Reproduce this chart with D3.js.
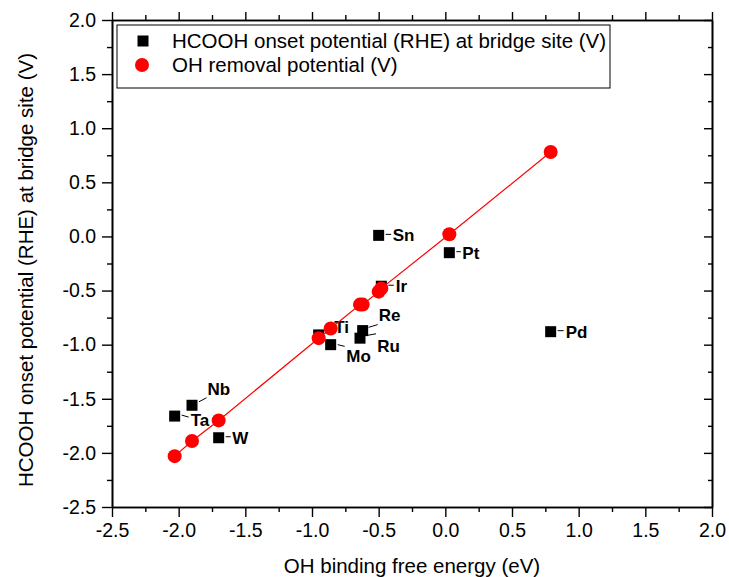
<!DOCTYPE html>
<html>
<head>
<meta charset="utf-8">
<script src="https://cdn.jsdelivr.net/npm/d3@7"></script>
<style>
  body { margin: 0; background: #fff; }
  svg { display: block; font-family: "Liberation Sans", Arial, sans-serif; }
</style>
</head>
<body>
<svg id="chart" width="729" height="577"></svg>
<script>
// metals and values
const metals = ['Sn', 'Pt', 'Ir', 'Pd', 'W', 'Ta', 'Nb', 'Ti', 'Mo', 'Re', 'Ru'];
const ohBinding = [-0.50, 0.03, -0.48, 0.79, -1.70, -2.03, -1.90, -0.95, -0.86, -0.62, -0.64]; // eV
const onsetPotential = [0.01, -0.15, -0.46, -0.88, -1.86, -1.66, -1.56, -0.91, -1.00, -0.87, -0.94]; // V (black squares)
const ohRemoval = [-0.51, 0.02, -0.48, 0.78, -1.70, -2.03, -1.89, -0.94, -0.85, -0.63, -0.63]; // V (red circles)
const majorTicks = [-2.5, -2.0, -1.5, -1.0, -0.5, 0.0, 0.5, 1.0, 1.5, 2.0];
const legendLabels = ['HCOOH onset potential (RHE) at bridge site (V)', 'OH removal potential (V)'];

const svg = d3.select('#chart');
const pLeft = 112, pRight = 712, pTop = 20, pBottom = 507;

const x_scale = d3.scaleLinear().domain([-2.5, 2]).range([pLeft, pRight]);
const y_scale = d3.scaleLinear().domain([-2.5, 2]).range([pBottom, pTop]);
const minorTicks = d3.range(-2.5, 2.01, 0.25).filter(v => Math.abs(v * 2 - Math.round(v * 2)) > 0.01);
const fmt = d => d.toFixed(1);

function styleAxis(g) {
  g.select('.domain').attr('stroke', '#000').attr('stroke-width', 1.6);
  g.selectAll('.tick line').attr('stroke', '#000').attr('stroke-width', 1.4);
  g.selectAll('.tick text').attr('fill', '#000').attr('font-size', 19.5)
    .attr('font-family', '"Liberation Sans", Arial, sans-serif');
}

// bottom axis
svg.append('g').attr('transform', `translate(0, ${pBottom})`)
  .call(d3.axisBottom(x_scale).tickValues(majorTicks).tickFormat(fmt).tickSize(10).tickSizeOuter(0).tickPadding(6))
  .call(styleAxis);
svg.append('g').attr('transform', `translate(0, ${pBottom})`)
  .call(d3.axisBottom(x_scale).tickValues(minorTicks).tickFormat('').tickSize(5).tickSizeOuter(0))
  .call(styleAxis);

// left axis
svg.append('g').attr('transform', `translate(${pLeft}, 0)`)
  .call(d3.axisLeft(y_scale).tickValues(majorTicks).tickFormat(fmt).tickSize(10).tickSizeOuter(0).tickPadding(6))
  .call(styleAxis);
svg.append('g').attr('transform', `translate(${pLeft}, 0)`)
  .call(d3.axisLeft(y_scale).tickValues(minorTicks).tickFormat('').tickSize(5).tickSizeOuter(0))
  .call(styleAxis);

// top axis (ticks outward, no labels)
svg.append('g').attr('transform', `translate(0, ${pTop})`)
  .call(d3.axisTop(x_scale).tickValues(majorTicks).tickFormat('').tickSize(8).tickSizeOuter(0))
  .call(styleAxis);
svg.append('g').attr('transform', `translate(0, ${pTop})`)
  .call(d3.axisTop(x_scale).tickValues(minorTicks).tickFormat('').tickSize(5).tickSizeOuter(0))
  .call(styleAxis);

// right axis (ticks inward)
svg.append('g').attr('transform', `translate(${pRight}, 0)`)
  .call(d3.axisLeft(y_scale).tickValues(majorTicks).tickFormat('').tickSize(8).tickSizeOuter(0))
  .call(styleAxis);
svg.append('g').attr('transform', `translate(${pRight}, 0)`)
  .call(d3.axisLeft(y_scale).tickValues(minorTicks).tickFormat('').tickSize(4).tickSizeOuter(0))
  .call(styleAxis);

// axis titles
svg.append('text')
  .attr('x', (pLeft + pRight) / 2).attr('y', 573)
  .attr('text-anchor', 'middle').attr('font-size', 20.5)
  .text('OH binding free energy (eV)');

svg.append('text')
  .attr('transform', `translate(33, 270) rotate(-90)`)
  .attr('text-anchor', 'middle').attr('font-size', 20.5)
  .text('HCOOH onset potential (RHE) at bridge site (V)');

const data = metals.map((m, i) => ({
  metal: m, x: ohBinding[i], onset: onsetPotential[i], removal: ohRemoval[i]
}));

// label placement relative to the square: text dx, dy and leader line
const labelPos = {
  Sn: { tx: 14, ty: 6, l: [7, -1, 12.5, -1] },
  Pt: { tx: 13, ty: 6, l: [7, -1, 11.5, -1] },
  Ir: { tx: 14.5, ty: 6, l: [7, -1, 12.5, -1] },
  Pd: { tx: 15, ty: 6, l: [7, -1, 13, -1] },
  W: { tx: 13.5, ty: 6, l: [7, -1, 12, -1] },
  Ta: { tx: 16, ty: 10, l: [7, -1, 14, 1] },
  Nb: { tx: 15.5, ty: -10, l: [7, -3.5, 14.5, -7.5] },
  Ti: { tx: 15.5, ty: -2, l: [8.5, -2.5, 13.5, -2.5] },
  Mo: { tx: 15.7, ty: 17.5, l: [7, 0, 14, 1.7] },
  Re: { tx: 16, ty: -9.5, l: [6, -3.3, 15, -6] },
  Ru: { tx: 17.3, ty: 13.5, l: [6.7, -2.7, 16, -4.4] }
};

const sq = 11;

// black squares
svg.selectAll('.onset').data(data).join('rect')
  .attr('class', 'onset')
  .attr('x', d => x_scale(d.x) - sq / 2)
  .attr('y', d => y_scale(d.onset) - sq / 2)
  .attr('width', sq).attr('height', sq)
  .attr('fill', '#000');

// leader lines + labels
svg.selectAll('.leader').data(data).join('line')
  .attr('class', 'leader')
  .attr('x1', d => x_scale(d.x) + labelPos[d.metal].l[0])
  .attr('y1', d => y_scale(d.onset) + labelPos[d.metal].l[1])
  .attr('x2', d => x_scale(d.x) + labelPos[d.metal].l[2])
  .attr('y2', d => y_scale(d.onset) + labelPos[d.metal].l[3])
  .attr('stroke', '#000').attr('stroke-width', 1);

svg.selectAll('.metal_label').data(data).join('text')
  .attr('class', 'metal_label')
  .attr('x', d => x_scale(d.x) + labelPos[d.metal].tx)
  .attr('y', d => y_scale(d.onset) + labelPos[d.metal].ty)
  .attr('font-size', 17).attr('font-weight', 'bold')
  .text(d => d.metal);

// red line through the OH removal points
const sorted = data.slice().sort((a, b) => a.x - b.x);
const lineGen = d3.line().x(d => x_scale(d.x)).y(d => y_scale(d.removal));
svg.append('path')
  .attr('d', lineGen(sorted))
  .attr('fill', 'none').attr('stroke', '#ff0000').attr('stroke-width', 1.2);

svg.selectAll('.removal').data(data).join('circle')
  .attr('class', 'removal')
  .attr('cx', d => x_scale(d.x))
  .attr('cy', d => y_scale(d.removal))
  .attr('r', 7)
  .attr('fill', '#ff0000');

// legend
const legend = svg.append('g');
legend.append('rect')
  .attr('x', 117).attr('y', 25).attr('width', 493).attr('height', 63)
  .attr('fill', '#fff').attr('stroke', '#000').attr('stroke-width', 1);
legend.append('rect')
  .attr('x', 143 - sq / 2).attr('y', 41 - sq / 2).attr('width', sq).attr('height', sq)
  .attr('fill', '#000');
legend.append('circle')
  .attr('cx', 142).attr('cy', 65).attr('r', 7).attr('fill', '#ff0000');
legend.selectAll('.legend_text').data(legendLabels).join('text')
  .attr('class', 'legend_text')
  .attr('x', 172).attr('y', (d, i) => 47.5 + i * 24.5)
  .attr('font-size', 20.5)
  .text(d => d);
</script>
</body>
</html>
